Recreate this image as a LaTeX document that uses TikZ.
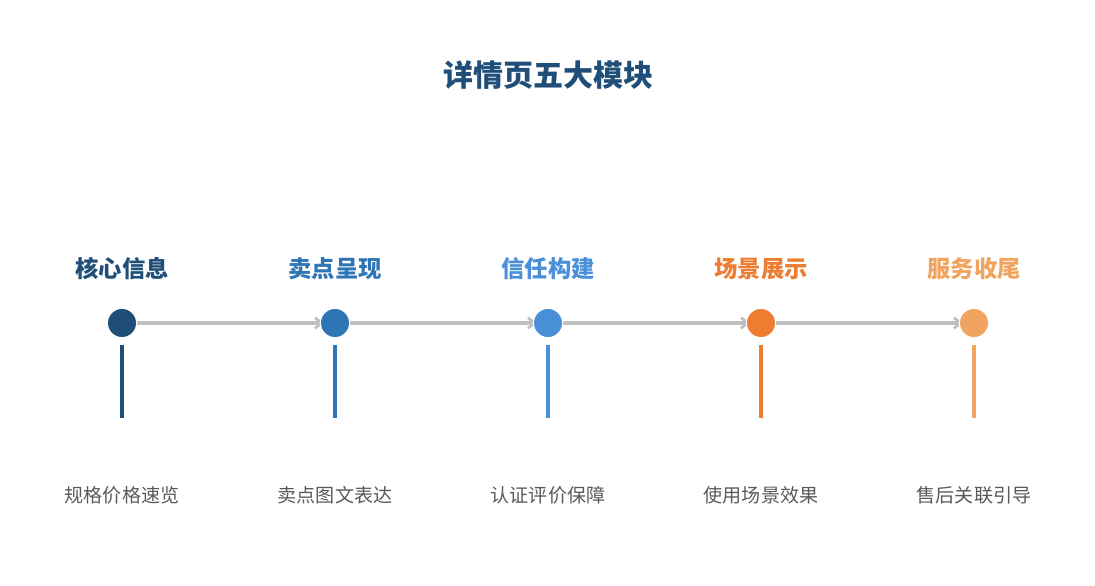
\documentclass[tikz,border=0pt]{standalone}
\usepackage{fontspec}
\setmainfont{Noto Sans CJK SC}
\usetikzlibrary{arrows.meta,backgrounds}
\definecolor{cA}{HTML}{1F4E79}
\definecolor{cB}{HTML}{2E75B6}
\definecolor{cC}{HTML}{4A90D9}
\definecolor{cD}{HTML}{ED7D31}
\definecolor{cE}{HTML}{F0A460}
\definecolor{lnk}{HTML}{BFBFBF}
\definecolor{txt}{HTML}{595959}
\begin{document}
\begin{tikzpicture}[x=0.75pt, y=0.75pt, dot/.style={circle, fill=#1, draw=white, line width=0.8pt, minimum size=22pt, inner sep=0pt}, stem/.style={draw=#1, line width=3pt}, lbl/.style={text=#1, font=\bfseries\fontsize{17.5}{20}\selectfont}, sub/.style={text=txt, font=\fontsize{14.3}{17}\selectfont}, link/.style={draw=lnk, line width=2.6pt, shorten >=-3pt, -{Straight Barb[length=5pt, width=8pt, line width=2pt]}}]
        \def\gap{213}
        \useasboundingbox (0,0) rectangle (1095,585);

        \node[text=cA, font=\bfseries\fontsize{22.5}{26}\selectfont] (title) at (548,510) {详情页五大模块};

        \node[dot=cA] (c1) at (122,262) {};\node[dot=cB] (c2) at (122+\gap,262) {};\node[dot=cC] (c3) at (122+2*\gap,262) {};
        \node[dot=cD] (c4) at (122+3*\gap,262) {};\node[dot=cE] (c5) at (122+4*\gap,262) {};

        \begin{scope}[on background layer]
        \draw[link] (c1) -- (c2);\draw[link] (c2) -- (c3);\draw[link] (c3) -- (c4);\draw[link] (c4) -- (c5);
        \end{scope}

        \node[lbl=cA] (l1) at (122,316) {核心信息};\node[lbl=cB] (l2) at (122+\gap,316) {卖点呈现};\node[lbl=cC] (l3) at (122+2*\gap,316) {信任构建};
        \node[lbl=cD] (l4) at (122+3*\gap,316) {场景展示};\node[lbl=cE] (l5) at (122+4*\gap,316) {服务收尾};

        \coordinate (t1) at (122,167);\coordinate (t2) at (122+\gap,167);\coordinate (t3) at (122+2*\gap,167);\coordinate (t4) at (122+3*\gap,167);\coordinate (t5) at (122+4*\gap,167);
        \draw[stem=cA] ([yshift=-5pt]c1.south) -- (t1);\draw[stem=cB] ([yshift=-5pt]c2.south) -- (t2);\draw[stem=cC] ([yshift=-5pt]c3.south) -- (t3);
        \draw[stem=cD] ([yshift=-5pt]c4.south) -- (t4);\draw[stem=cE] ([yshift=-5pt]c5.south) -- (t5);

        \node[sub] (s1) at (122,90) {规格价格速览};\node[sub] (s2) at (122+\gap,90) {卖点图文表达};\node[sub] (s3) at (122+2*\gap,90) {认证评价保障};
        \node[sub] (s4) at (122+3*\gap,90) {使用场景效果};\node[sub] (s5) at (122+4*\gap,90) {售后关联引导};
    \end{tikzpicture}
\end{document}
